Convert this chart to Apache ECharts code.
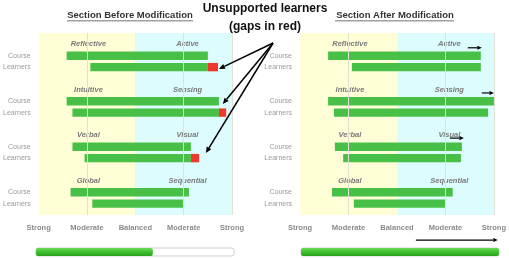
<!DOCTYPE html>
<html>
<head>
<meta charset="UTF-8">
<title>Learning style gaps</title>
<script src="https://cdn.jsdelivr.net/npm/echarts@6/dist/echarts.min.js"></script>
<style>
  html, body { margin: 0; padding: 0; background: #fff; }
  #chart { width: 509px; height: 258px; }
</style>
</head>
<body>
<div id="chart"></div>
<script>
// scale -2 (strong left) .. 0 (balanced) .. 2 (strong right)
var scaleTicks = ['Strong', 'Moderate', 'Balanced', 'Moderate', 'Strong'];
var dimLeft = ['Reflective', 'Intuitive', 'Verbal', 'Global'];
var dimRight = ['Active', 'Sensing', 'Visual', 'Sequential'];
var rowNames = ['Course', 'Learners'];

// [start, end] for each dimension
var beforeCourse = [[-1.42, 1.50], [-1.42, 1.73], [-1.30, 1.15], [-1.34, 1.11]];
var beforeLearners = [[-0.93, 1.50], [-1.30, 1.73], [-1.05, 1.15], [-0.89, 0.99]];
var beforeGapEnd = [1.71, 1.88, 1.32, null];   // red part of learners bar
var afterCourse = [[-1.42, 1.73], [-1.42, 2.00], [-1.28, 1.34], [-1.34, 1.15]];
var afterLearners = [[-0.93, 1.73], [-1.30, 1.88], [-1.11, 1.32], [-0.89, 0.99]];
var progress = [59, 100];

var green = '#48c048', red = '#ee3a2e';
var yellowBg = '#fffed6', cyanBg = '#dcfcfd';
var font = 'Liberation Sans';

function barData(course, learners, gaps) {
  var out = [];
  for (var i = 0; i < course.length; i++) {
    out.push([i * 4 + 1, course[i][0], course[i][1], 0]);
    out.push([i * 4 + 2, learners[i][0], learners[i][1], 0]);
    if (gaps && gaps[i] != null) out.push([i * 4 + 2, learners[i][1], gaps[i], 1]);
  }
  return out;
}

var labelItems = [];
for (var i = 0; i < dimLeft.length; i++) {
  labelItems.push({ value: [-0.97, i * 4], name: dimLeft[i] });
  labelItems.push({ value: [1.08, i * 4], name: dimRight[i] });
}

function renderBar(params, api) {
  var y = api.value(0);
  var p0 = api.coord([api.value(1), y]);
  var p1 = api.coord([api.value(2), y]);
  var h = api.size([0, 1])[1] * 0.74;
  return {
    type: 'rect',
    shape: { x: p0[0], y: p0[1] - h / 2, width: p1[0] - p0[0], height: h },
    style: { fill: api.value(3) ? red : green }
  };
}

function renderLabel(params, api) {
  var p = api.coord([api.value(0), api.value(1)]);
  return {
    type: 'text', x: p[0], y: p[1],
    style: {
      text: labelItems[params.dataIndex].name,
      fill: '#7a7a7a', align: 'center', verticalAlign: 'middle',
      font: 'italic bold 7.5px "' + font + '"'
    }
  };
}

function panelSeries(idx, data) {
  return [{
    type: 'custom', xAxisIndex: idx, yAxisIndex: idx, renderItem: renderBar,
    data: data, silent: true, z: 3,
    markArea: {
      silent: true,
      data: [
        [{ xAxis: -2, itemStyle: { color: yellowBg } }, { xAxis: 0 }],
        [{ xAxis: 0, itemStyle: { color: cyanBg } }, { xAxis: 2 }]
      ]
    },
    markLine: {
      silent: true, symbol: 'none', label: { show: false },
      lineStyle: { color: '#e2e2d4', width: 1, type: 'solid' },
      data: [{ xAxis: -1 }, { xAxis: 1 }, { xAxis: 2 }]
    }
  }, {
    type: 'custom', xAxisIndex: idx, yAxisIndex: idx, renderItem: renderLabel,
    data: labelItems, silent: true, z: 4
  }];
}

function scaleAxis(idx) {
  return {
    type: 'value', gridIndex: idx, min: -2, max: 2, interval: 1,
    axisLine: { show: false }, axisTick: { show: false }, splitLine: { show: false },
    axisLabel: {
      margin: 9, color: '#8a8a8a', fontSize: 7.5, fontWeight: 'bold', fontFamily: font,
      formatter: function (v) { return scaleTicks[Math.round(v) + 2]; }
    }
  };
}

function rowAxis(idx) {
  return {
    type: 'value', gridIndex: idx, inverse: true, min: -1, max: 15, interval: 1, offset: 2,
    axisLine: { show: true, lineStyle: { color: '#e6e6e6' } },
    axisTick: { show: false }, splitLine: { show: false },
    axisLabel: {
      margin: 6, color: '#9a9a9a', fontSize: 7, fontFamily: font,
      formatter: function (v) {
        var r = ((Math.round(v) % 4) + 4) % 4;
        return r === 1 ? rowNames[0] : (r === 2 ? rowNames[1] : '');
      }
    }
  };
}

var chart = echarts.init(document.getElementById('chart'));
chart.setOption({
  animation: false,
  title: [
    { text: 'Section Before Modification', left: 130, top: 10, padding: 0, textAlign: 'center',
      textStyle: { fontSize: 9.5, fontWeight: 'bold', color: '#333', fontFamily: font } },
    { text: 'Section After Modification', left: 395, top: 10, padding: 0, textAlign: 'center',
      textStyle: { fontSize: 9.5, fontWeight: 'bold', color: '#333', fontFamily: font } },
    { text: 'Unsupported learners\n(gaps in red)', left: 265, top: 0, padding: 0, textAlign: 'center',
      textStyle: { fontSize: 12, fontWeight: 'bold', color: '#111', fontFamily: font, lineHeight: 18 } }
  ],
  grid: [
    { left: 38, top: 33, width: 194, height: 182 },
    { left: 300, top: 33, width: 194, height: 182 },
    { left: 36, top: 248, width: 198, height: 8 },
    { left: 301, top: 248, width: 198, height: 8 }
  ],
  xAxis: [scaleAxis(0), scaleAxis(1),
    { type: 'value', gridIndex: 2, min: 0, max: 100, show: false },
    { type: 'value', gridIndex: 3, min: 0, max: 100, show: false }],
  yAxis: [rowAxis(0), rowAxis(1),
    { type: 'category', gridIndex: 2, data: ['p'], show: false },
    { type: 'category', gridIndex: 3, data: ['p'], show: false }],
  series: panelSeries(0, barData(beforeCourse, beforeLearners, beforeGapEnd))
    .concat(panelSeries(1, barData(afterCourse, afterLearners, null)))
    .concat([2, 3].map(function (g, k) {
      return {
        type: 'bar', xAxisIndex: g, yAxisIndex: g, data: [progress[k]], barWidth: 8,
        showBackground: true,
        backgroundStyle: { color: '#fff', borderColor: '#d0d0d0', borderWidth: 1, borderRadius: 2 },
        itemStyle: {
          borderRadius: 2,
          color: new echarts.graphic.LinearGradient(0, 0, 0, 1, [
            { offset: 0, color: '#6fd85a' }, { offset: 0.5, color: '#3fc02e' }, { offset: 1, color: '#2a9f22' }
          ])
        }
      };
    }))
});

// annotation arrows, given in the panels' data coordinates
var arrows = [
  { grid: 0, from: [2.85, -0.12], to: [1.73, 2.16], w: 1.5, head: 6 },
  { grid: 0, from: [2.85, -0.12], to: [1.81, 5.24], w: 1.5, head: 6 },
  { grid: 0, from: [2.85, -0.12], to: [1.46, 9.55], w: 1.5, head: 6 },
  { grid: 1, from: [1.46, 0.3], to: [1.75, 0.3], w: 1.2, head: 4.5 },
  { grid: 1, from: [1.75, 4.27], to: [2.0, 4.27], w: 1.2, head: 4.5 },
  { grid: 1, from: [1.09, 8.24], to: [1.38, 8.24], w: 1.2, head: 4.5 },
  { grid: 1, from: [0.39, 17.2], to: [2.08, 17.2], w: 1.2, head: 4.5 }
];

var graphics = [
  { type: 'rect', z: 100, shape: { x: 67, y: 20.5, width: 126, height: 0.8 }, style: { fill: '#444' } },
  { type: 'rect', z: 100, shape: { x: 335, y: 20.5, width: 119, height: 0.8 }, style: { fill: '#444' } }
];
arrows.forEach(function (a) {
  var p0 = chart.convertToPixel({ gridIndex: a.grid }, a.from);
  var p1 = chart.convertToPixel({ gridIndex: a.grid }, a.to);
  var dx = p1[0] - p0[0], dy = p1[1] - p0[1];
  var len = Math.sqrt(dx * dx + dy * dy);
  var ux = dx / len, uy = dy / len;
  var bx = p1[0] - ux * a.head, by = p1[1] - uy * a.head;
  var hw = a.head * 0.45;
  graphics.push({
    type: 'line', silent: true, z: 100,
    shape: { x1: p0[0], y1: p0[1], x2: bx, y2: by },
    style: { stroke: '#000', lineWidth: a.w }
  });
  graphics.push({
    type: 'polygon', silent: true, z: 100,
    shape: { points: [[p1[0], p1[1]], [bx - uy * hw, by + ux * hw], [bx + uy * hw, by - ux * hw]] },
    style: { fill: '#000' }
  });
});
chart.setOption({ graphic: graphics });
</script>
</body>
</html>
